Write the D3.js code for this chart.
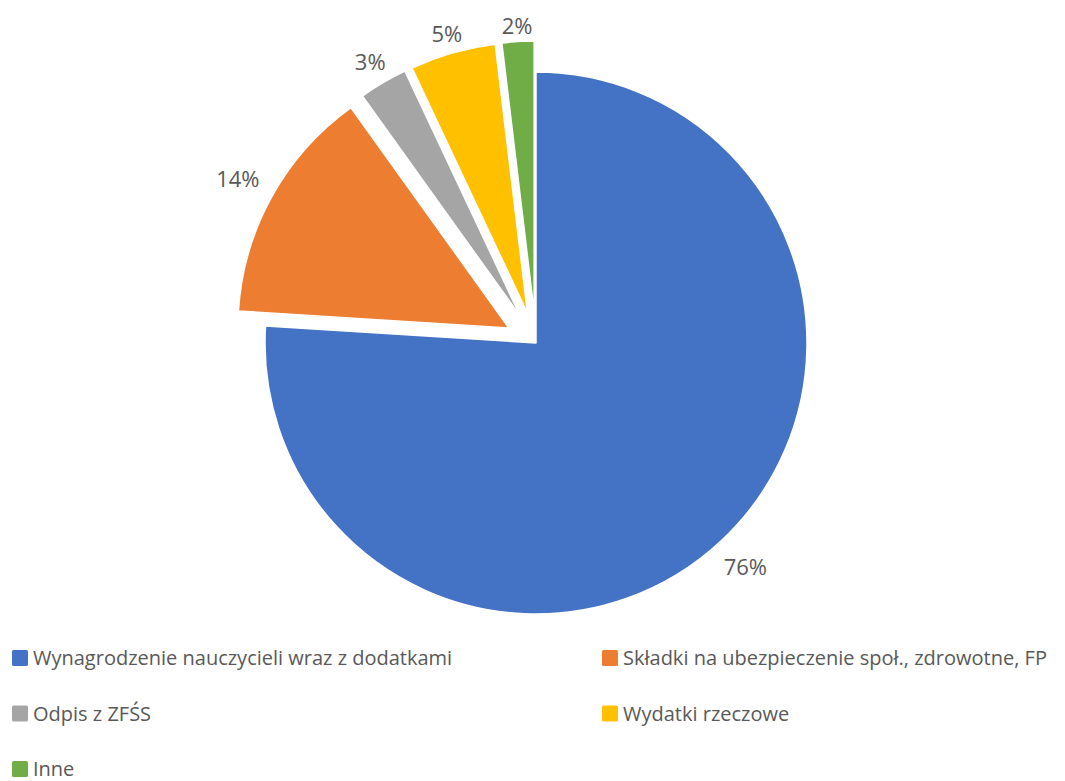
<!DOCTYPE html>
<html>
<head>
<meta charset="utf-8">
<script src="https://cdn.jsdelivr.net/npm/d3@7"></script>
<style>
  html, body { margin: 0; padding: 0; background: #fff; }
  svg { display: block; font-family: "Open Sans", "Noto Sans", sans-serif; }
</style>
</head>
<body>
<svg id="chart" width="1065" height="781"></svg>
<script>
const categories = [
  'Wynagrodzenie nauczycieli wraz z dodatkami',
  'Składki na ubezpieczenie społ., zdrowotne, FP',
  'Odpis z ZFŚS',
  'Wydatki rzeczowe',
  'Inne'
];
const values = [76.0, 14.1, 2.9, 5.1, 1.9];
const exploded = [false, true, true, true, true];
const colors = ['#4472C4', '#ED7D31', '#A5A5A5', '#FFC000', '#70AD47'];

const width = 1065;
const height = 781;
const cx = 536, cy = 343;
const radius = 271;
const explode = 31;
const textColor = '#595959';

const svg = d3.select('#chart');
const total = d3.sum(values);

const pie = d3.pie().sort(null).value(d => d);
const arcs = pie(values);
const arc = d3.arc().innerRadius(0).outerRadius(radius);

const g = svg.append('g').attr('transform', `translate(${cx},${cy})`);

const offset = (d, dist) => {
  const mid = (d.startAngle + d.endAngle) / 2;
  return [Math.sin(mid) * dist, -Math.cos(mid) * dist];
};

const slices = g.selectAll('g.slice')
  .data(arcs)
  .enter()
  .append('g')
  .attr('class', 'slice')
  .attr('transform', (d, i) => {
    const [dx, dy] = offset(d, exploded[i] ? explode : 0);
    return `translate(${dx},${dy})`;
  });

slices.append('path')
  .attr('d', arc)
  .attr('fill', (d, i) => colors[i])
  .attr('stroke', '#fff')
  .attr('stroke-width', 1.5)
  .attr('stroke-linejoin', 'round');

// data labels just outside the rim ("best fit" style)
const fmt = d3.format('.0%');
slices.append('text')
  .text(d => fmt(d.value / total))
  .attr('fill', textColor)
  .attr('font-size', 22)
  .attr('text-anchor', 'middle')
  .attr('dominant-baseline', 'central')
  .each(function(d) {
    const box = this.getBBox();
    const mid = (d.startAngle + d.endAngle) / 2;
    const s = Math.sin(mid), c = Math.cos(mid);
    const ext = Math.abs(s) * box.width * 0.75 + Math.abs(c) * box.height * 0.3;
    const dist = radius + 6 + ext;
    d3.select(this)
      .attr('x', s * dist)
      .attr('y', -c * dist);
  });

// legend, two columns
const legend = svg.append('g');
const colX = [12, 602];
const rowY0 = 650, rowStep = 55.5;
const items = legend.selectAll('g.item')
  .data(categories)
  .enter()
  .append('g')
  .attr('class', 'item')
  .attr('transform', (d, i) => `translate(${colX[i % 2]},${rowY0 + Math.floor(i / 2) * rowStep})`);

items.append('rect')
  .attr('width', 16)
  .attr('height', 16)
  .attr('rx', 1.5)
  .attr('fill', (d, i) => colors[i]);

items.append('text')
  .attr('x', 21)
  .attr('y', 15)
  .attr('fill', textColor)
  .attr('font-size', 20)
  .text(d => d);
</script>
</body>
</html>
